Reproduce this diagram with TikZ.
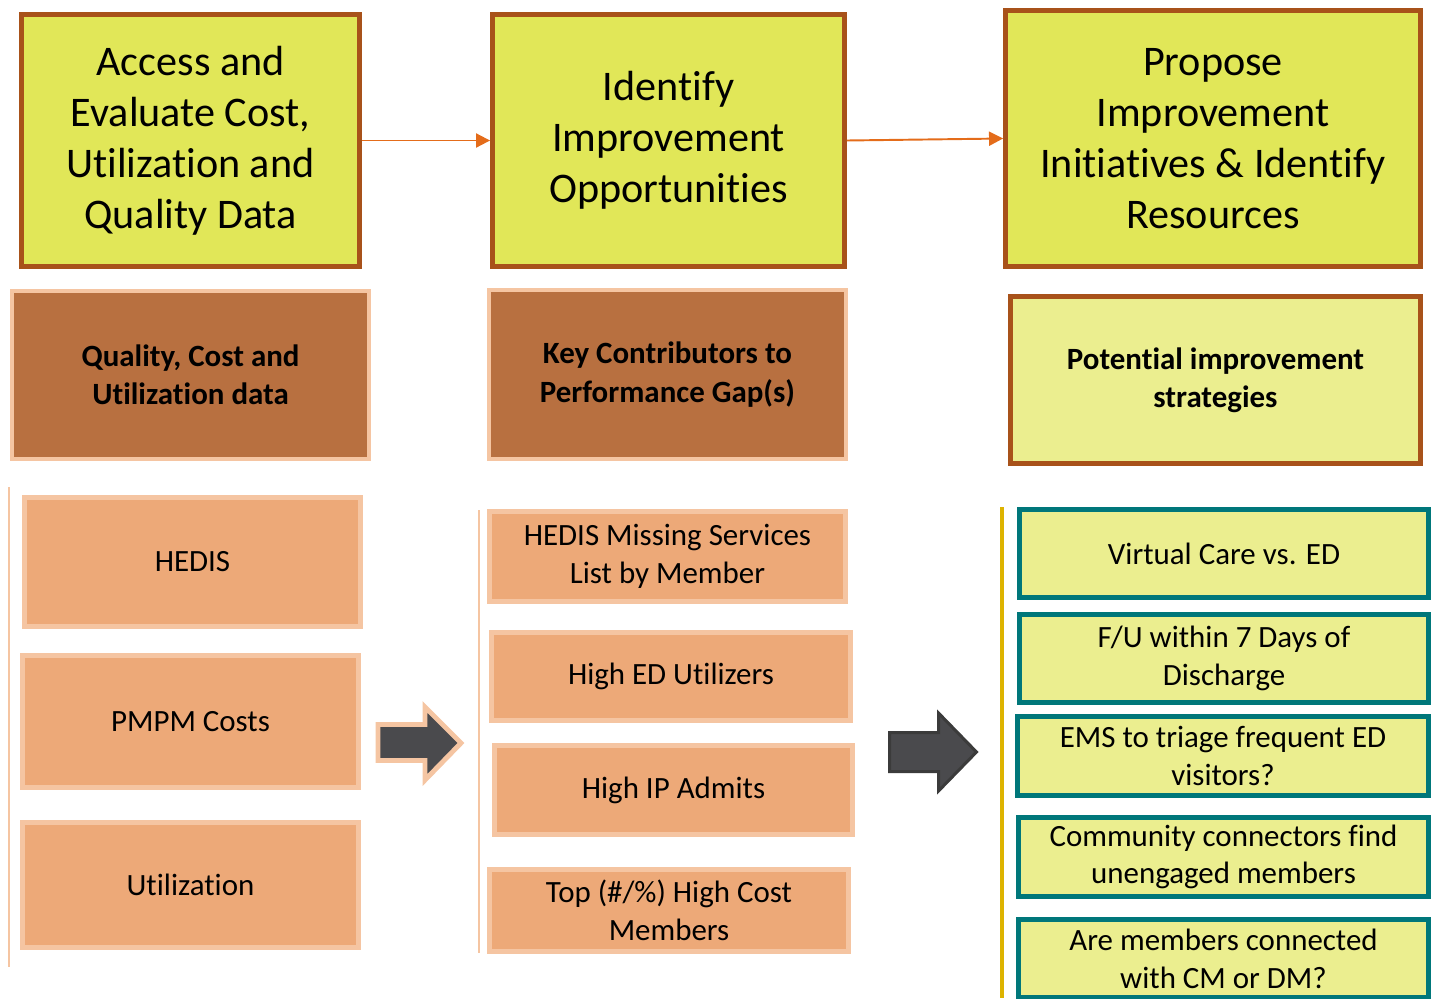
\documentclass[tikz,border=0pt]{standalone}
\usepackage{fontspec}
\setmainfont[Ligatures=NoCommon]{Carlito}
\usetikzlibrary{arrows.meta}
\definecolor{topfill}{HTML}{E1E758}
\definecolor{topline}{HTML}{A8521A}
\definecolor{flowline}{HTML}{E46C1A}
\definecolor{brownfill}{HTML}{B87040}
\definecolor{peach}{HTML}{F5C5A2}
\definecolor{listfill}{HTML}{EDA978}
\definecolor{paleyellow}{HTML}{EBEE8F}
\definecolor{tealline}{HTML}{00777A}
\definecolor{goldline}{HTML}{DDB300}
\definecolor{darkarrow}{HTML}{4A4A4D}
\definecolor{darkrim}{HTML}{3B3B3B}

\begin{document}
\begin{tikzpicture}[x=0.02cm,y=-0.02cm,
    stage/.style={draw=topline,fill=topfill,line width=2.8pt,align=center,inner sep=0pt,
        font=\fontsize{24}{29}\selectfont},
    header/.style={draw=peach,fill=brownfill,line width=2.3pt,align=center,inner sep=0pt,
        font=\fontsize{17.6}{21.8}\selectfont\bfseries},
    item/.style={draw=peach,fill=listfill,line width=2.8pt,align=center,inner sep=0pt,
        font=\fontsize{17.6}{21.5}\selectfont},
    idea/.style={draw=tealline,fill=paleyellow,line width=2.8pt,align=center,inner sep=0pt,
        font=\fontsize{17.6}{21.5}\selectfont},
    flow/.style={draw=flowline,line width=1.1pt,-{Triangle[length=8pt,width=8pt]}}]
    \useasboundingbox (0,0) rectangle (1431,998);
    \clip (0,0) rectangle (1431,998);

    % top row
    \node[stage,minimum width=6.76cm,minimum height=5.04cm] (T1) at (190.5,140.5)
        {Access and\\Evaluate Cost,\\Utilization and\\Quality Data};
    \node[stage,minimum width=7.04cm,minimum height=5.04cm] (T2) at (668.5,140.5)
        {Identify\\Improvement\\Opportunities};
    \node[stage,minimum width=8.3cm,minimum height=5.12cm] (T3) at (1213,138.5)
        {Propose\\Improvement\\Initiatives \& Identify\\Resources};
    \draw[flow] (T1.east) -- (T2.west);
    \draw[flow] (T2.east) -- (T3.west);

    % headers
    \node[header,minimum width=7.14cm,minimum height=3.36cm] (H1) at (190.5,375)
        {Quality, Cost and\\Utilization data};
    \node[header,minimum width=7.14cm,minimum height=3.38cm] (H2) at (667.5,374.5)
        {Key Contributors to\\Performance Gap(s)};
    \node[header,draw=topline,fill=paleyellow,line width=2.8pt,minimum width=8.2cm,minimum height=3.34cm] (H3) at (1215.5,380)
        {Potential improvement\\strategies};

    % first column
    \draw[peach,line width=1.2pt] (9,487) -- (9,967);
    \node[item,minimum width=6.72cm,minimum height=2.58cm] (L1) at (192.5,562) {HEDIS};
    \node[item,minimum width=6.72cm,minimum height=2.64cm] (L2) at (190.5,721.5) {PMPM Costs};
    \node[item,minimum width=6.72cm,minimum height=2.5cm] (L3) at (190.5,885) {Utilization};

    % second column
    \draw[peach,line width=1.2pt] (479,510) -- (479,953);
    \node[item,minimum width=7.12cm,minimum height=1.8cm] (M1) at (667.5,556.5)
        {HEDIS Missing Services\\List by Member};
    \node[item,minimum width=7.18cm,minimum height=1.76cm] (M2) at (671,676.5) {High ED Utilizers};
    \node[item,minimum width=7.16cm,minimum height=1.78cm] (M3) at (673.5,790) {High IP Admits};
    \node[item,minimum width=7.18cm,minimum height=1.64cm] (M4) at (669,910.5)
        {Top (\#/\%) High Cost\\Members};

    % third column
    \draw[goldline,line width=2.8pt] (1002,507) -- (1002,998);
    \node[idea,minimum width=8.18cm,minimum height=1.76cm] (R1) at (1224,553.5) {Virtual Care vs. ED};
    \node[idea,minimum width=8.18cm,minimum height=1.76cm] (R2) at (1224,658.5)
        {F/U within 7 Days of\\Discharge};
    \node[idea,minimum width=8.22cm,minimum height=1.58cm] (R3) at (1223,756)
        {EMS to triage frequent ED\\visitors?};
    \node[idea,minimum width=8.2cm,minimum height=1.58cm] (R4) at (1223.5,857)
        {Community connectors find\\unengaged members};
    \node[idea,minimum width=8.2cm,minimum height=1.56cm] (R5) at (1223.5,958.5)
        {Are members connected\\with CM or DM?};

    % block arrows
    \draw[draw=peach,fill=darkarrow,line width=2.8pt,line join=miter]
        (378,724.5) -- (425,724.5) -- (425,707) -- (461,743) -- (425,780)
        -- (425,760.5) -- (378,760.5) -- cycle;
    \draw[draw=darkrim,fill=darkarrow,line width=1.7pt,line join=miter]
        (889.5,732.5) -- (938.5,732.5) -- (938.5,713) -- (976.5,752) -- (938.5,791)
        -- (938.5,771.5) -- (889.5,771.5) -- cycle;
\end{tikzpicture}
\end{document}
